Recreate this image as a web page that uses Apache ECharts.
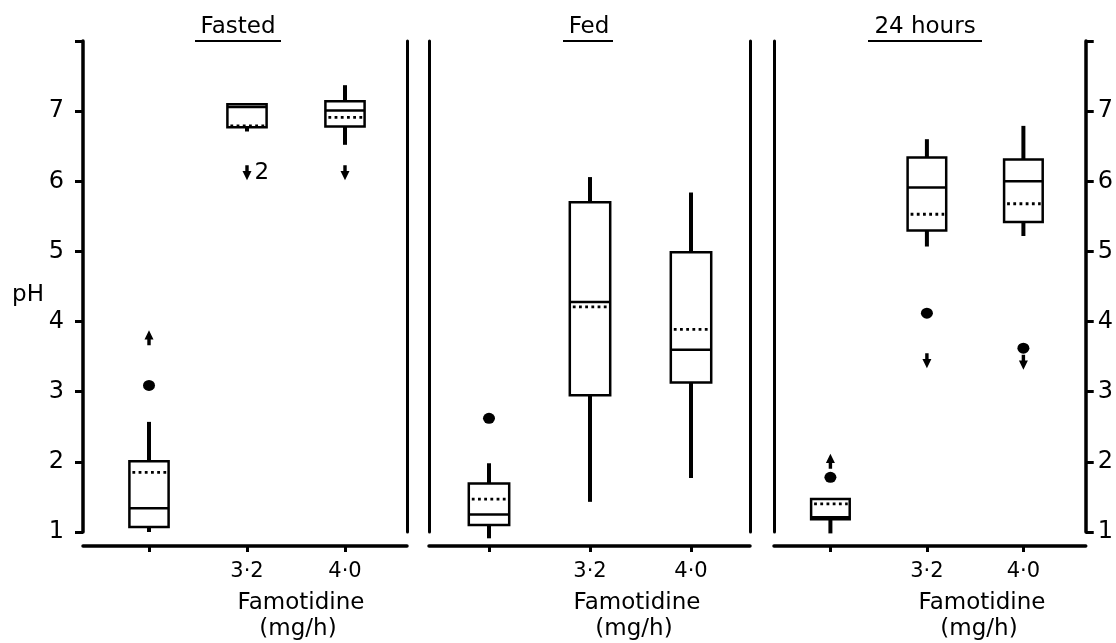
<!DOCTYPE html>
<html>
<head>
<meta charset="utf-8">
<title>Famotidine pH</title>
<script src="https://cdn.jsdelivr.net/npm/echarts@6/dist/echarts.min.js"></script>
<style>
    html, body { margin: 0; padding: 0; background: #fff; }
    #chart { width: 1116px; height: 643px; }
</style>
</head>
<body>
<div id="chart"></div>
<script>
// ---------------------- data ----------------------
const panelTitles = ['Fasted', 'Fed', '24 hours'];
const doseLabels = ['', '3·2', '4·0'];          // control, 3.2 and 4.0 mg/h
const yTicks = [1, 2, 3, 4, 5, 6, 7, 8];

// [dose index, low whisker, q1, median, q3, high whisker, mean]
const fastedBoxes = [
    [0, 1.00, 1.07, 1.34, 2.01, 2.57, 1.85],
    [1, 6.71, 6.77, 7.06, 7.10, 7.10, 6.79],
    [2, 6.52, 6.78, 7.01, 7.14, 7.37, 6.91]
];
const fedBoxes = [
    [0, 0.91, 1.10, 1.25, 1.69, 1.98, 1.47],
    [1, 1.43, 2.95, 4.28, 5.70, 6.06, 4.21],
    [2, 1.77, 3.13, 3.60, 4.99, 5.84, 3.89]
];
const day24Boxes = [
    [0, 0.98, 1.18, 1.21, 1.47, 1.47, 1.40],
    [1, 5.07, 5.30, 5.91, 6.34, 6.60, 5.53],
    [2, 5.22, 5.42, 6.00, 6.31, 6.79, 5.68]
];

// single outlying values (dots)
const fastedDots = [[0, 3.09]];
const fedDots = [[0, 2.62]];
const day24Dots = [[0, 1.78], [1, 4.12], [2, 3.62]];

// values beyond the box range (arrows), and how many patients each stands for
const fastedUp = [[0, 3.77]];
const fastedDown = [[1, 6.12], [2, 6.12]];
const fastedDownCount = [2, 1];
const fedUp = [];
const fedDown = [];
const day24Up = [[0, 2.01]];
const day24Down = [[1, 3.44], [2, 3.42]];

// ---------------------- layout ----------------------
const FONT = '"DejaVu Sans", "Liberation Sans", sans-serif';
const INK = '#000';
const grids = [
    { left: 83, right: 709, top: 41, bottom: 111 },
    { left: 429, right: 366, top: 41, bottom: 111 },
    { left: 774, right: 27, top: 41, bottom: 111 }
];
// x range so that the three doses fall under their ticks
const xRanges = [[-0.6735, 2.6327], [-0.594, 2.584], [-0.5846, 2.646]];
const xOffsets = [14, 14, 14];

const arrowPath = 'path://M5,0 L10,10 L6.9,10 L6.9,16 L3.1,16 L3.1,10 L0,10 Z';

function renderBox(params, api) {
    const x = api.value(0);
    const lo = api.coord([x, api.value(1)]);
    const q1 = api.coord([x, api.value(2)]);
    const med = api.coord([x, api.value(3)]);
    const q3 = api.coord([x, api.value(4)]);
    const hi = api.coord([x, api.value(5)]);
    const mean = api.coord([x, api.value(6)]);
    const w = api.size([0.4, 0])[0];
    const cx = q1[0];
    const left = cx - w / 2;
    const right = cx + w / 2;
    const whisker = { stroke: INK, lineWidth: 4 };
    const children = [];
    if (lo[1] - q1[1] > 0.5) {
        children.push({ type: 'line', shape: { x1: cx, y1: lo[1], x2: cx, y2: q1[1] }, style: whisker });
    }
    if (q3[1] - hi[1] > 0.5) {
        children.push({ type: 'line', shape: { x1: cx, y1: q3[1], x2: cx, y2: hi[1] }, style: whisker });
    }
    children.push(
        { type: 'rect', shape: { x: left, y: q3[1], width: w, height: q1[1] - q3[1] },
          style: { fill: '#fff', stroke: INK, lineWidth: 2.5 } },
        { type: 'line', shape: { x1: left, y1: med[1], x2: right, y2: med[1] },
          style: { stroke: INK, lineWidth: 2.5 } },
        { type: 'line', shape: { x1: left + 3, y1: mean[1], x2: right - 2, y2: mean[1] },
          style: { stroke: INK, lineWidth: 2.8, lineDash: [2.8, 3.4] } }
    );
    return { type: 'group', children: children };
}

// ---------------------- axes ----------------------
const xAxes = grids.map((g, i) => ({
    type: 'value',
    gridIndex: i,
    min: xRanges[i][0],
    max: xRanges[i][1],
    offset: xOffsets[i],
    axisLine: { onZero: false, lineStyle: { color: INK, width: 3.5 } },
    axisTick: { customValues: [0, 1, 2], length: 6, lineStyle: { color: INK, width: 3 } },
    axisLabel: {
        customValues: [1, 2],
        formatter: v => doseLabels[Math.round(v)],
        margin: 15,
        color: INK, fontFamily: FONT, fontSize: 21
    },
    splitLine: { show: false }
}));

function pHAxis(i, position, withScale) {
    return {
        type: 'value',
        gridIndex: i,
        position: position,
        min: 1,
        max: 8,
        interval: 1,
        axisLine: { show: true, onZero: false, lineStyle: { color: INK, width: withScale ? 3.5 : 3 } },
        axisTick: { show: withScale, length: 8, lineStyle: { color: INK, width: 3 } },
        axisLabel: {
            show: withScale,
            margin: position === 'left' ? 19 : 12,
            formatter: v => (v === yTicks[yTicks.length - 1] ? '' : String(v)),
            color: INK, fontFamily: FONT, fontSize: 24
        },
        splitLine: { show: false }
    };
}

const yAxes = [
    pHAxis(0, 'left', true), pHAxis(0, 'right', false),
    pHAxis(1, 'left', false), pHAxis(1, 'right', false),
    pHAxis(2, 'left', false), pHAxis(2, 'right', true)
];

// ---------------------- series ----------------------
const boxSets = [fastedBoxes, fedBoxes, day24Boxes];
const dotSets = [fastedDots, fedDots, day24Dots];
const upSets = [fastedUp, fedUp, day24Up];
const downSets = [fastedDown, fedDown, day24Down];

const series = [];
panelTitles.forEach((name, i) => {
    const yIdx = i * 2;
    series.push({
        name: name + ' boxes',
        type: 'custom',
        xAxisIndex: i, yAxisIndex: yIdx,
        renderItem: renderBox,
        encode: { x: 0, y: [1, 2, 3, 4, 5, 6] },
        clip: false,
        silent: true,
        data: boxSets[i]
    });
    series.push({
        name: name + ' dots',
        type: 'scatter',
        xAxisIndex: i, yAxisIndex: yIdx,
        symbol: 'circle', symbolSize: [12, 11],
        itemStyle: { color: INK, opacity: 1 },
        silent: true,
        data: dotSets[i]
    });
    series.push({
        name: name + ' up',
        type: 'scatter',
        xAxisIndex: i, yAxisIndex: yIdx,
        symbol: arrowPath, symbolSize: [9, 15],
        itemStyle: { color: INK, opacity: 1 },
        silent: true,
        data: upSets[i]
    });
    series.push({
        name: name + ' down',
        type: 'scatter',
        xAxisIndex: i, yAxisIndex: yIdx,
        symbol: arrowPath, symbolSize: [9, 15], symbolRotate: 180,
        itemStyle: { color: INK, opacity: 1 },
        silent: true,
        label: {
            show: i === 0,
            position: 'right',
            distance: 3,
            formatter: p => (fastedDownCount[p.dataIndex] > 1 ? String(fastedDownCount[p.dataIndex]) : ''),
            color: INK, fontFamily: FONT, fontSize: 23
        },
        data: downSets[i]
    });
});

// ---------------------- titles & axis names ----------------------
const titleCentres = [238, 589, 925];
const underlineSpans = [[195, 281], [563, 613], [868, 982]];
const nameCentres = [301, 637, 982];

const graphic = [];
panelTitles.forEach((t, i) => {
    graphic.push({
        type: 'text', x: titleCentres[i], y: 27,
        style: { text: t, fill: INK, fontFamily: FONT, fontSize: 23, textAlign: 'center', textVerticalAlign: 'middle' }
    });
    graphic.push({
        type: 'line',
        shape: { x1: underlineSpans[i][0], y1: 41, x2: underlineSpans[i][1], y2: 41 },
        style: { stroke: INK, lineWidth: 2 }
    });
    graphic.push({
        type: 'text', x: nameCentres[i], y: 603,
        style: { text: 'Famotidine', fill: INK, fontFamily: FONT, fontSize: 23, textAlign: 'center', textVerticalAlign: 'middle' }
    });
    graphic.push({
        type: 'text', x: nameCentres[i] - 3, y: 629,
        style: { text: '(mg/h)', fill: INK, fontFamily: FONT, fontSize: 23, textAlign: 'center', textVerticalAlign: 'middle' }
    });
});
graphic.push({
    type: 'text', x: 28, y: 295,
    style: { text: 'pH', fill: INK, fontFamily: FONT, fontSize: 23, textAlign: 'center', textVerticalAlign: 'middle' }
});

const chart = echarts.init(document.getElementById('chart'));
chart.setOption({
    backgroundColor: '#fff',
    animation: false,
    grid: grids,
    xAxis: xAxes,
    yAxis: yAxes,
    graphic: graphic,
    series: series
});
</script>
</body>
</html>
